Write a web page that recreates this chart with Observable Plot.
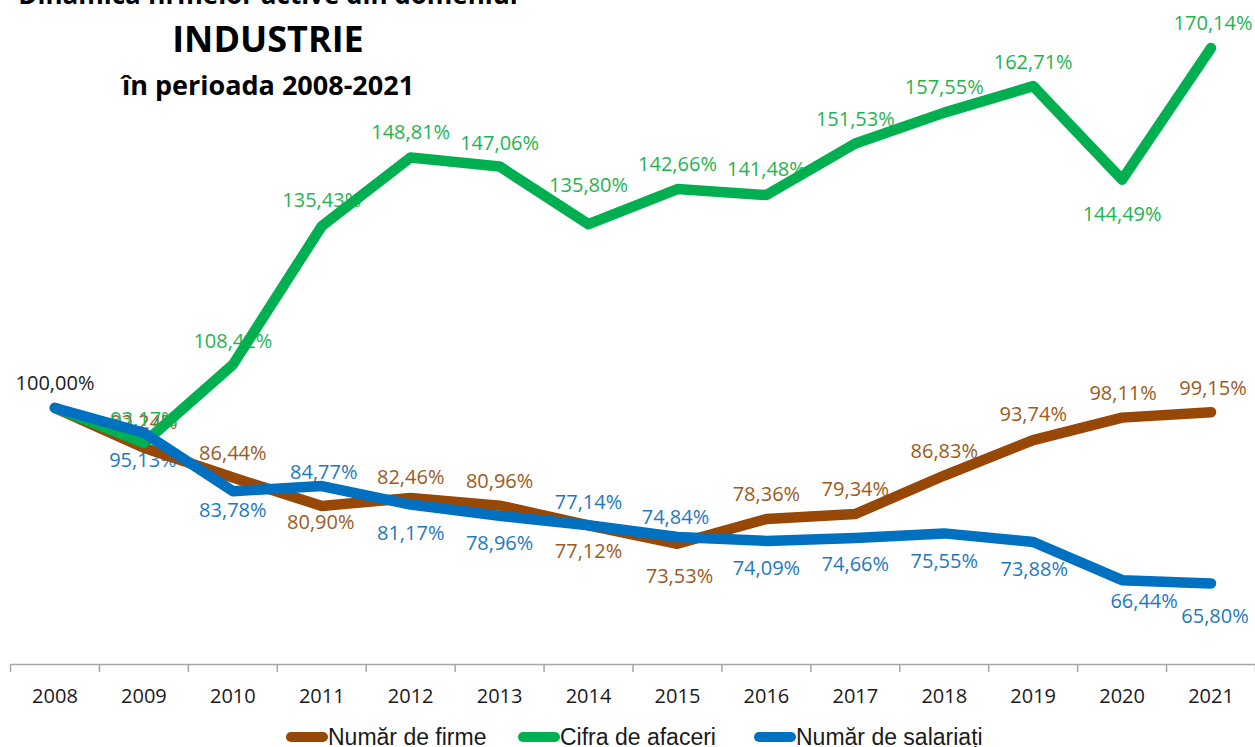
<!DOCTYPE html>
<html>
<head>
<meta charset="utf-8">
<script src="https://cdn.jsdelivr.net/npm/d3@7"></script>
<script src="https://cdn.jsdelivr.net/npm/@observablehq/plot@0.6"></script>
<style>
  html, body { margin: 0; padding: 0; background: #fff; overflow: hidden; }
  #wrap { position: relative; width: 1255px; height: 747px; }
  #title { position: absolute; left: 0; top: 0; }
  #legend { position: relative; width: 1255px; height: 35px; font-family: "Liberation Sans", Arial, sans-serif; font-size: 23px; color: #1a1a1a; }
  .item { position: absolute; top: 13px; height: 24px; display: flex; align-items: center; white-space: nowrap; }
  .item svg { display: block; }
</style>
</head>
<body>
<div id="wrap">
  <div id="chart"></div>
  <div id="legend"></div>
  <svg id="title" width="540" height="110"></svg>
</div>
<script>
// ---- data ----
const years = [2008, 2009, 2010, 2011, 2012, 2013, 2014, 2015, 2016, 2017, 2018, 2019, 2020, 2021];
const firme = [100.00, 92.24, 86.44, 80.90, 82.46, 80.96, 77.12, 73.53, 78.36, 79.34, 86.83, 93.74, 98.11, 99.15];
const cifra = [100.00, 93.17, 108.42, 135.43, 148.81, 147.06, 135.80, 142.66, 141.48, 151.53, 157.55, 162.71, 144.49, 170.14];
const salariati = [100.00, 95.13, 83.78, 84.77, 81.17, 78.96, 77.14, 74.84, 74.09, 74.66, 75.55, 73.88, 66.44, 65.80];
const seriesNames = ["Număr de firme", "Cifra de afaceri", "Număr de salariați"];
const titleLines = ["Dinamica firmelor active din domeniul", "INDUSTRIE", "în perioada 2008-2021"];

// ---- label placement (pixel offsets from each point; null = no label) ----
const firmeDy = [null, -25, -24, 17, -20, -24, 26, 33, -24, -24, -24, -25, -24, -24];
const firmeDx = [0, 0, 0, -1, 0, 0, 0, 2, 0, 0, 0, 0, 1, 2];
const cifraDy = [null, -23, -23, -26, -25, -23, -39, -24, -25, -24, -25, -24, 35, -24];
const cifraDx = [0, 0, 0, 0, 0, 0, 0, 0, 0, 0, 0, 0, 0, 2];
const salariatiDy = [-24, 28, 19, -13, 29, 28, -23, -19, 28, 27, 28, 28, 21, 33];
const salariatiDx = [0, -1, 0, 2, 0, 0, 0, -2, 0, 0, 0, 1, 22, 4];

// ---- styles ----
const lineColors = ["#974806", "#00b050", "#0070c0"];
const labelColors = ["#9c5a22", "#1fb450", "#1f78c1"];

const fmt = v => v.toFixed(2).replace(".", ",") + "%";

const seriesValues = [firme, cifra, salariati];
const seriesDy = [firmeDy, cifraDy, salariatiDy];
const seriesDx = [firmeDx, cifraDx, salariatiDx];

const rows = [];
seriesValues.forEach((vals, s) => {
  vals.forEach((v, i) => rows.push({series: seriesNames[s], s, year: years[i], value: v, i}));
});

const boundaries = years.map(y => y - 0.5).concat([years[years.length - 1] + 0.5]);

const labelMarks = [];
[0, 1, 2].forEach(s => {
  rows.filter(r => r.s === s).forEach(r => {
    const dy = seriesDy[s][r.i];
    if (dy === null) return;
    labelMarks.push(Plot.text([r], {
      x: "year", y: "value", text: d => fmt(d.value),
      dx: seriesDx[s][r.i], dy,
      fill: (s === 2 && r.i === 0) ? "#1a1a1a" : labelColors[s]
    }));
  });
});

const lineMarks = [0, 1, 2].map(s => Plot.line(rows.filter(r => r.s === s), {
  x: "year", y: "value", stroke: lineColors[s], strokeWidth: 10.5,
  strokeLinecap: "round", strokeLinejoin: "round"
}));

const chart = Plot.plot({
  width: 1255,
  height: 712,
  marginLeft: 10,
  marginRight: 0,
  marginTop: 0,
  marginBottom: 48,
  style: {fontFamily: "'Open Sans', sans-serif", fontSize: "20px", background: "#fff", overflow: "visible"},
  x: {type: "linear", domain: [2007.5, 2021.5], label: null},
  y: {domain: [50, 179.4], axis: null},
  marks: [
    Plot.ruleY([50], {stroke: "#a6a6a6", strokeWidth: 1.5}),
    Plot.axisX(boundaries, {tickSize: 8, tickFormat: () => "", stroke: "#a6a6a6", strokeWidth: 1.5, label: null}),
    Plot.axisX(years, {tickSize: 0, tickPadding: 24, tickFormat: d => String(d), fill: "#1a1a1a", fontSize: 20, label: null}),
    ...labelMarks,
    ...lineMarks
  ]
});
document.getElementById("chart").appendChild(chart);

// ---- legend ----
const legend = document.getElementById("legend");
const legendLefts = [286, 518, 754];
seriesNames.forEach((name, s) => {
  const item = document.createElement("div");
  item.className = "item";
  item.style.left = legendLefts[s] + "px";
  item.innerHTML = `<svg width="42" height="12"><line x1="5" y1="6" x2="37" y2="6" stroke="${lineColors[s]}" stroke-width="10" stroke-linecap="round"/></svg><span>${name}</span>`;
  legend.appendChild(item);
});

// ---- title ----
const t = d3.select("#title");
const titleSpecs = [
  {y: 4, size: 26},
  {y: 52, size: 36},
  {y: 95, size: 27}
];
titleLines.forEach((line, k) => {
  t.append("text")
    .attr("x", 268).attr("y", titleSpecs[k].y)
    .attr("text-anchor", "middle")
    .attr("font-family", "'Open Sans', sans-serif")
    .attr("font-weight", "bold")
    .attr("font-size", titleSpecs[k].size)
    .attr("fill", "#000")
    .text(line);
});
</script>
</body>
</html>
